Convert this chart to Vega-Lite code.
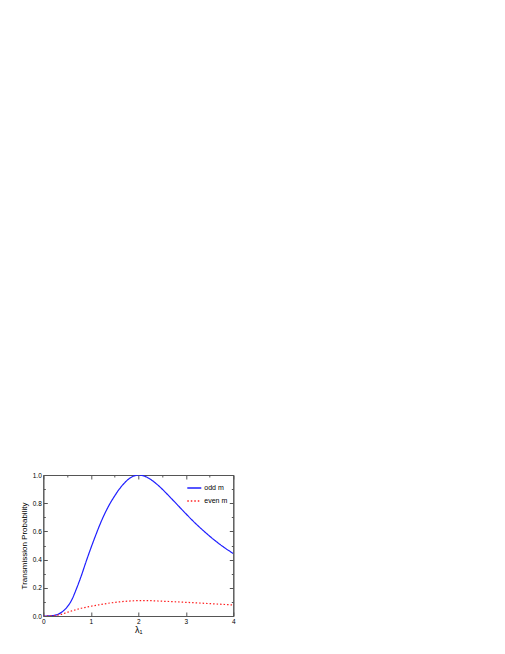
{
  "$schema": "https://vega.github.io/schema/vega-lite/v6.json",
  "width": 190,
  "height": 141,
  "autosize": "none",
  "padding": {"left": 43.3, "top": 475, "right": 271.7, "bottom": 38},
  "background": "white",
  "config": {
    "font": "Liberation Sans",
    "view": {"stroke": "#555555", "strokeWidth": 1},
    "axis": {
      "domainColor": "#555555",
      "tickColor": "#555555",
      "labelColor": "black",
      "labelFontSize": 6.5,
      "titleFontWeight": "normal",
      "titleColor": "black",
      "grid": false
    }
  },
  "data": {
    "values": [
      {"lam": 0.0, "T": 0.0, "series": "odd m"},
      {"lam": 0.1, "T": 0.0003, "series": "odd m"},
      {"lam": 0.2, "T": 0.003, "series": "odd m"},
      {"lam": 0.3, "T": 0.011, "series": "odd m"},
      {"lam": 0.4, "T": 0.03, "series": "odd m"},
      {"lam": 0.5, "T": 0.063, "series": "odd m"},
      {"lam": 0.6, "T": 0.115, "series": "odd m"},
      {"lam": 0.7, "T": 0.195, "series": "odd m"},
      {"lam": 0.8, "T": 0.285, "series": "odd m"},
      {"lam": 0.9, "T": 0.385, "series": "odd m"},
      {"lam": 1.0, "T": 0.48, "series": "odd m"},
      {"lam": 1.1, "T": 0.57, "series": "odd m"},
      {"lam": 1.2, "T": 0.655, "series": "odd m"},
      {"lam": 1.3, "T": 0.73, "series": "odd m"},
      {"lam": 1.4, "T": 0.795, "series": "odd m"},
      {"lam": 1.5, "T": 0.85, "series": "odd m"},
      {"lam": 1.6, "T": 0.9, "series": "odd m"},
      {"lam": 1.7, "T": 0.94, "series": "odd m"},
      {"lam": 1.8, "T": 0.972, "series": "odd m"},
      {"lam": 1.9, "T": 0.992, "series": "odd m"},
      {"lam": 2.0, "T": 1.0, "series": "odd m"},
      {"lam": 2.1, "T": 0.995, "series": "odd m"},
      {"lam": 2.2, "T": 0.981, "series": "odd m"},
      {"lam": 2.3, "T": 0.959, "series": "odd m"},
      {"lam": 2.4, "T": 0.932, "series": "odd m"},
      {"lam": 2.5, "T": 0.901, "series": "odd m"},
      {"lam": 2.6, "T": 0.867, "series": "odd m"},
      {"lam": 2.7, "T": 0.832, "series": "odd m"},
      {"lam": 2.8, "T": 0.797, "series": "odd m"},
      {"lam": 2.9, "T": 0.761, "series": "odd m"},
      {"lam": 3.0, "T": 0.726, "series": "odd m"},
      {"lam": 3.2, "T": 0.658, "series": "odd m"},
      {"lam": 3.4, "T": 0.596, "series": "odd m"},
      {"lam": 3.6, "T": 0.539, "series": "odd m"},
      {"lam": 3.8, "T": 0.488, "series": "odd m"},
      {"lam": 4.0, "T": 0.443, "series": "odd m"},
      {"lam": 0.0, "T": 0.0, "series": "even m"},
      {"lam": 0.1, "T": 0.0003, "series": "even m"},
      {"lam": 0.2, "T": 0.002, "series": "even m"},
      {"lam": 0.3, "T": 0.006, "series": "even m"},
      {"lam": 0.4, "T": 0.014, "series": "even m"},
      {"lam": 0.5, "T": 0.026, "series": "even m"},
      {"lam": 0.6, "T": 0.036, "series": "even m"},
      {"lam": 0.7, "T": 0.046, "series": "even m"},
      {"lam": 0.8, "T": 0.055, "series": "even m"},
      {"lam": 0.9, "T": 0.062, "series": "even m"},
      {"lam": 1.0, "T": 0.069, "series": "even m"},
      {"lam": 1.2, "T": 0.081, "series": "even m"},
      {"lam": 1.4, "T": 0.092, "series": "even m"},
      {"lam": 1.6, "T": 0.1, "series": "even m"},
      {"lam": 1.8, "T": 0.106, "series": "even m"},
      {"lam": 2.0, "T": 0.109, "series": "even m"},
      {"lam": 2.2, "T": 0.109, "series": "even m"},
      {"lam": 2.5, "T": 0.105, "series": "even m"},
      {"lam": 3.0, "T": 0.097, "series": "even m"},
      {"lam": 3.5, "T": 0.088, "series": "even m"},
      {"lam": 4.0, "T": 0.078, "series": "even m"}
    ]
  },
  "layer": [
    {
      "mark": {"type": "line", "strokeWidth": 1.2, "clip": true, "interpolate": "monotone"},
      "encoding": {
        "x": {
          "field": "lam", "type": "quantitative",
          "scale": {"domain": [0, 4], "nice": false, "zero": false},
          "axis": {
            "orient": "bottom",
            "title": "λ₁",
            "titleFontSize": 9,
            "titlePadding": 1,
            "values": [0, 0.5, 1, 1.5, 2, 2.5, 3, 3.5, 4],
            "labelExpr": "datum.value % 1 == 0 ? datum.label : ''",
            "format": "d",
            "tickSize": {"condition": {"test": "datum.value % 1 == 0", "value": -4}, "value": -2},
            "labelPadding": 6,
            "labelFlush": false
          }
        },
        "y": {
          "field": "T", "type": "quantitative",
          "scale": {"domain": [0, 1], "nice": false},
          "axis": {
            "orient": "left",
            "title": "Transmission Probability",
            "titleFontSize": 8,
            "titlePadding": 4,
            "values": [0, 0.1, 0.2, 0.3, 0.4, 0.5, 0.6, 0.7, 0.8, 0.9, 1.0],
            "format": ".1f",
            "labelExpr": "round(datum.value * 10) % 2 == 0 ? datum.label : ''",
            "tickSize": {"condition": {"test": "round(datum.value * 10) % 2 == 0", "value": -4}, "value": -2},
            "labelPadding": 6,
            "labelFlush": false
          }
        },
        "color": {
          "field": "series", "type": "nominal",
          "scale": {"domain": ["odd m", "even m"], "range": ["#1f1fff", "#ff1f1f"]},
          "legend": {
            "title": null,
            "orient": "none",
            "legendX": 143,
            "legendY": 5,
            "symbolType": "stroke",
            "symbolSize": 196,
            "symbolStrokeWidth": 1.3,
            "labelFontSize": 7,
            "labelOffset": 2,
            "rowPadding": 2
          }
        },
        "strokeDash": {
          "field": "series", "type": "nominal",
          "scale": {"domain": ["odd m", "even m"], "range": [[1, 0], [1.5, 2]]},
          "legend": {
            "title": null,
            "orient": "none",
            "legendX": 143,
            "legendY": 5,
            "symbolType": "stroke",
            "symbolSize": 196,
            "symbolStrokeWidth": 1.3,
            "labelFontSize": 7,
            "labelOffset": 2,
            "rowPadding": 2
          }
        }
      }
    },
    {
      "mark": {"type": "point", "opacity": 0},
      "encoding": {
        "x": {
          "field": "lam", "type": "quantitative",
          "axis": {
            "orient": "top", "title": null, "labels": false,
            "values": [0, 0.5, 1, 1.5, 2, 2.5, 3, 3.5, 4],
            "tickSize": {"condition": {"test": "datum.value % 1 == 0", "value": -4}, "value": -2}
          }
        },
        "y": {
          "field": "T", "type": "quantitative",
          "axis": {
            "orient": "right", "title": null, "labels": false,
            "values": [0, 0.1, 0.2, 0.3, 0.4, 0.5, 0.6, 0.7, 0.8, 0.9, 1.0],
            "tickSize": {"condition": {"test": "round(datum.value * 10) % 2 == 0", "value": -4}, "value": -2}
          }
        }
      }
    }
  ],
  "resolve": {"axis": {"x": "independent", "y": "independent"}}
}
